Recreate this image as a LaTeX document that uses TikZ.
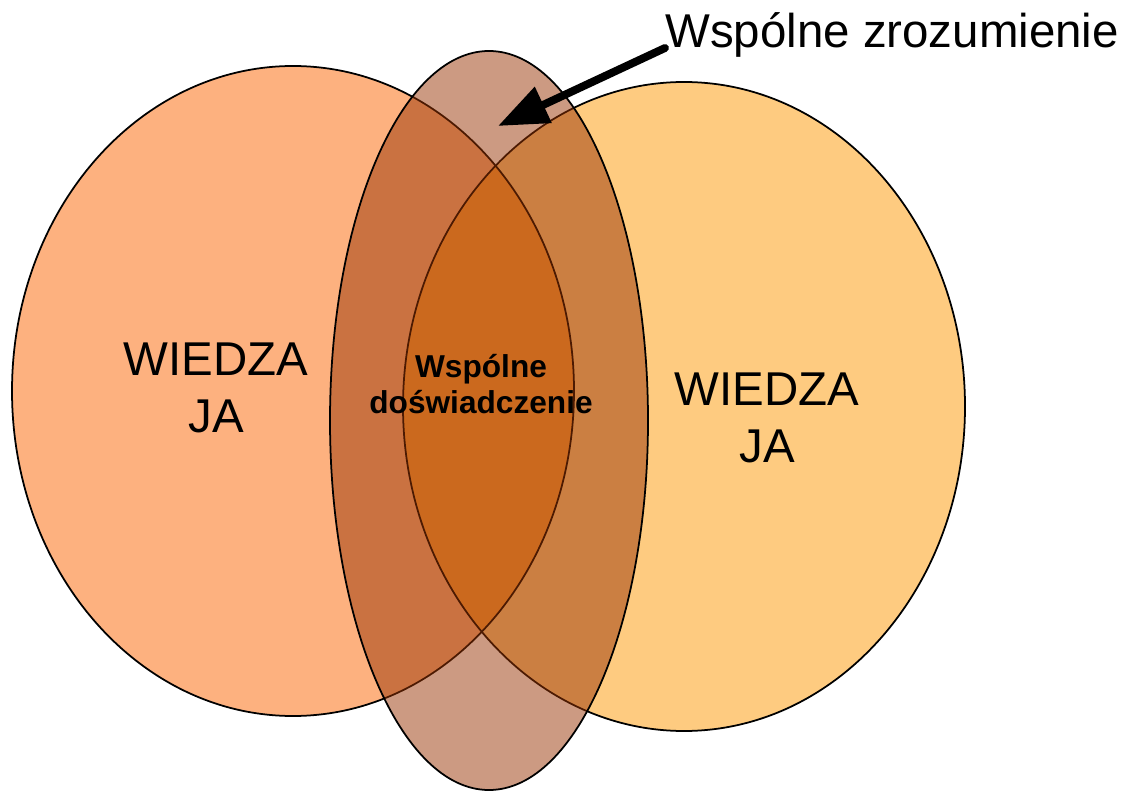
\documentclass[tikz,border=0pt]{standalone}
\usepackage{fontspec}
\setmainfont{Liberation Sans}
\usepackage{tikz}
\usetikzlibrary{arrows.meta,positioning}
\usepackage{xcolor}
\definecolor{jaorange}{RGB}{253,177,127}
\definecolor{tyorange}{RGB}{254,203,128}
\definecolor{lensorange}{RGB}{255,159,57}
\definecolor{sharedbrown}{RGB}{153,53,5}
\tikzstyle{setline} = [draw=black, line width=1pt]
\tikzstyle{biglabel} = [font=\fontsize{27}{32}\selectfont, inner sep=0pt, align=center]
\tikzstyle{smalllabel} = [font=\fontsize{18}{20.5}\selectfont\bfseries, inner sep=0pt, align=center]
\tikzstyle{arrow} = [line width=4.5pt, line cap=round, -{Triangle[length=1.0cm,width=0.76cm]}]
\def\leftset{(5.86,8.02) ellipse (5.62 and 6.5)}
\def\rightset{(13.68,7.71) ellipse (5.62 and 6.49)}
\def\middleset{(9.78,7.43) ellipse (3.18 and 7.39)}

\begin{document}
\begin{tikzpicture}
\useasboundingbox (0,0) rectangle (22.52,15.84);
\fill[jaorange] \leftset;
\fill[tyorange] \rightset;
\begin{scope}
\clip \leftset;
\fill[lensorange] \rightset;
\end{scope}
\draw[setline] \leftset;
\draw[setline] \rightset;
\fill[sharedbrown, fill opacity=0.5] \middleset;
\draw[setline] \middleset;
\node[biglabel, anchor=north] (wiedzaL) at (4.32,8.98) {WIEDZA\\JA};
\node[biglabel, anchor=north] (wiedzaR) at (15.34,8.38) {WIEDZA\\JA};
\node[smalllabel, anchor=north] (doswiadczenie) at (9.62,8.76) {Wspólne\\doświadczenie};
\node[biglabel, anchor=base west] (zrozumienie) at (13.30,14.88) {Wspólne zrozumienie};
\coordinate (tip) at (9.96,13.32);
\draw[arrow] (zrozumienie.base west) -- (tip);
\end{tikzpicture}
\end{document}
